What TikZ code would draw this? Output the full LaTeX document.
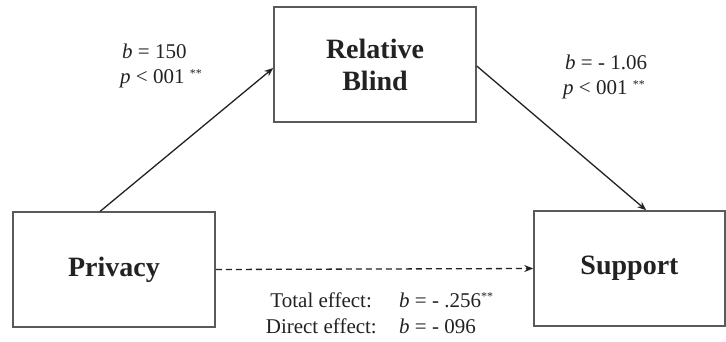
\documentclass[tikz,border=0pt]{standalone}
\usepackage{fontspec}
\setmainfont{Liberation Serif}
\usetikzlibrary{arrows.meta,calc}
\definecolor{boxline}{HTML}{5A5A5A}
\definecolor{ink}{HTML}{222222}
\begin{document}
\begin{tikzpicture}[x=1pt,y=-1pt,
  varbox/.style={draw=boxline,line width=1.5pt,fill=white,minimum width=202pt,minimum height=115pt,inner sep=0pt,text=ink,font=\fontsize{28}{32}\selectfont\bfseries,align=center},
  path/.style={draw=ink,line width=1.3pt,-{Stealth[length=9pt,width=7pt]}},
  lab/.style={anchor=base west,inner sep=0pt,text=ink,font=\fontsize{21}{24}\selectfont},
  stars/.style={font=\fontsize{12}{12}\selectfont}]
\useasboundingbox (0,0) rectangle (726,341);
\node[varbox] (P) at (114,269.5) {Privacy};
\node[varbox,minimum width=191pt] (S) at (629.5,268.5) {Support};
\node[varbox] (R) at (375,64.5) {Relative\\Blind};
\draw[path] ($(P.north west)+(88,0)$) -- ($(R.west)+(0,3.5)$);
\draw[path] ($(R.east)+(0,1.5)$) -- ($(S.north west)+(113,0)$);
\draw[path,dashed,dash pattern=on 6pt off 4pt] (P.east) -- (S.west);
\node[lab] (l1) at (122,58) {\textit{b} = 150};
\node[lab] (l2) at (120,83) {\textit{p} < 001 \raisebox{0.55ex}{\fontsize{12}{12}\selectfont **}};
\node[lab] (r1) at (565,69) {\textit{b} = - 1.06};
\node[lab] (r2) at (563,94) {\textit{p} < 001 \raisebox{0.55ex}{\fontsize{12}{12}\selectfont **}};
\node[lab,anchor=base east] (t1) at (372,307) {Total effect:};
\node[lab] (t2) at (399,307) {\textit{b} = - .256\raisebox{0.65ex}{\fontsize{12}{12}\selectfont **}};
\node[lab,anchor=base east] (d1) at (377,333) {Direct effect:};
\node[lab] (d2) at (399,333) {\textit{b} = - 096};
\end{tikzpicture}
\end{document}
